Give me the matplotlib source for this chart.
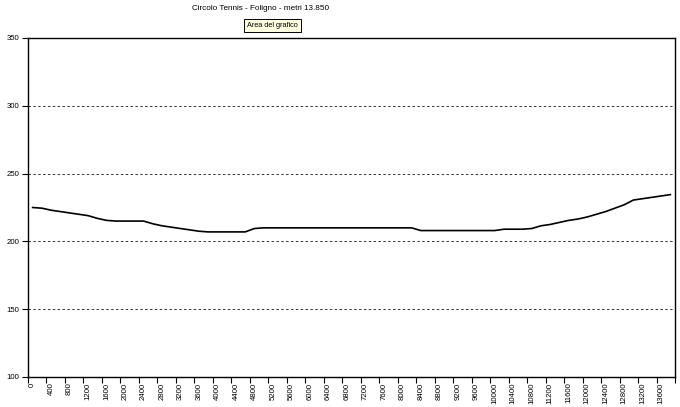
import matplotlib
matplotlib.use("Agg")
import matplotlib.pyplot as plt
import numpy as np

# Data: distance (m) every 200 m, altitude (m)
distances = list(range(0, 13801, 200))
altitudes = [
    225, 224.5, 223, 222, 221, 220, 219, 217, 215.5, 215,      # 0-1800
    215, 215, 215, 213, 211.5, 210.5, 209.5, 208.5, 207.5, 207,  # 2000-3800
    207, 207, 207, 207, 209.5, 210, 210, 210, 210, 210,          # 4000-5800
    210, 210, 210, 210, 210, 210, 210, 210, 210, 210,            # 6000-7800
    210, 210, 208, 208, 208, 208, 208, 208, 208, 208,            # 8000-9800
    208, 209, 209, 209, 209.5, 211.5, 212.5, 214, 215.5, 216.5,  # 10000-11800
    218, 220, 222, 224.5, 227, 230.5, 231.5, 232.5, 233.5, 234.5  # 12000-13800
]
title = "Circolo Tennis - Foligno - metri 13.850"
y_ticks = [100, 150, 200, 250, 300, 350]
tooltip = "Area del grafico"

plt.rcParams['font.family'] = ['Liberation Sans', 'DejaVu Sans']

W, H = 680, 407
fig = plt.figure(figsize=(W / 100, H / 100), dpi=100)
ax = fig.add_axes([28 / W, 1 - 377 / H, (675 - 28) / W, (377 - 38) / H])

n = len(distances)
idx = np.arange(n)
ax.plot(idx, altitudes, color='black', lw=1.2, solid_joinstyle='round')

ax.set_xlim(-0.5, n - 0.5)
ax.set_ylim(100, 350)

# y axis
ax.set_yticks(y_ticks)
ax.set_yticklabels([str(v) for v in y_ticks], fontsize=5.6)
ax.tick_params(axis='y', direction='out', length=4, width=0.8, pad=2)
for v in y_ticks[1:-1]:
    ax.axhline(v, color='#333333', lw=0.7, ls=(0, (2.5, 2.5)), zorder=0)

# x axis: tick marks between every other category, labels every 400 m
ax.set_xticks(np.arange(-0.5, n, 2))
ax.set_xticklabels([])
ax.tick_params(axis='x', which='major', direction='out', length=4, width=0.8)
ax.set_xticks(idx[::2], minor=True)
ax.set_xticklabels([str(d) for d in distances[::2]], minor=True,
                   rotation=90, fontsize=5.6)
ax.tick_params(axis='x', which='minor', length=0, pad=4)

for s in ax.spines.values():
    s.set_linewidth(1.0)
    s.set_color('black')

fig.text(261 / W, 1 - 8 / H, title, ha='center', va='center', fontsize=5.9)
fig.text(272.5 / W, 1 - 25.5 / H, tooltip, ha='center', va='center', fontsize=5.3,
         bbox=dict(boxstyle='square,pad=0.45', fc='#FFFFE1', ec='black', lw=0.7))

fig.savefig('out.png', dpi=100)
